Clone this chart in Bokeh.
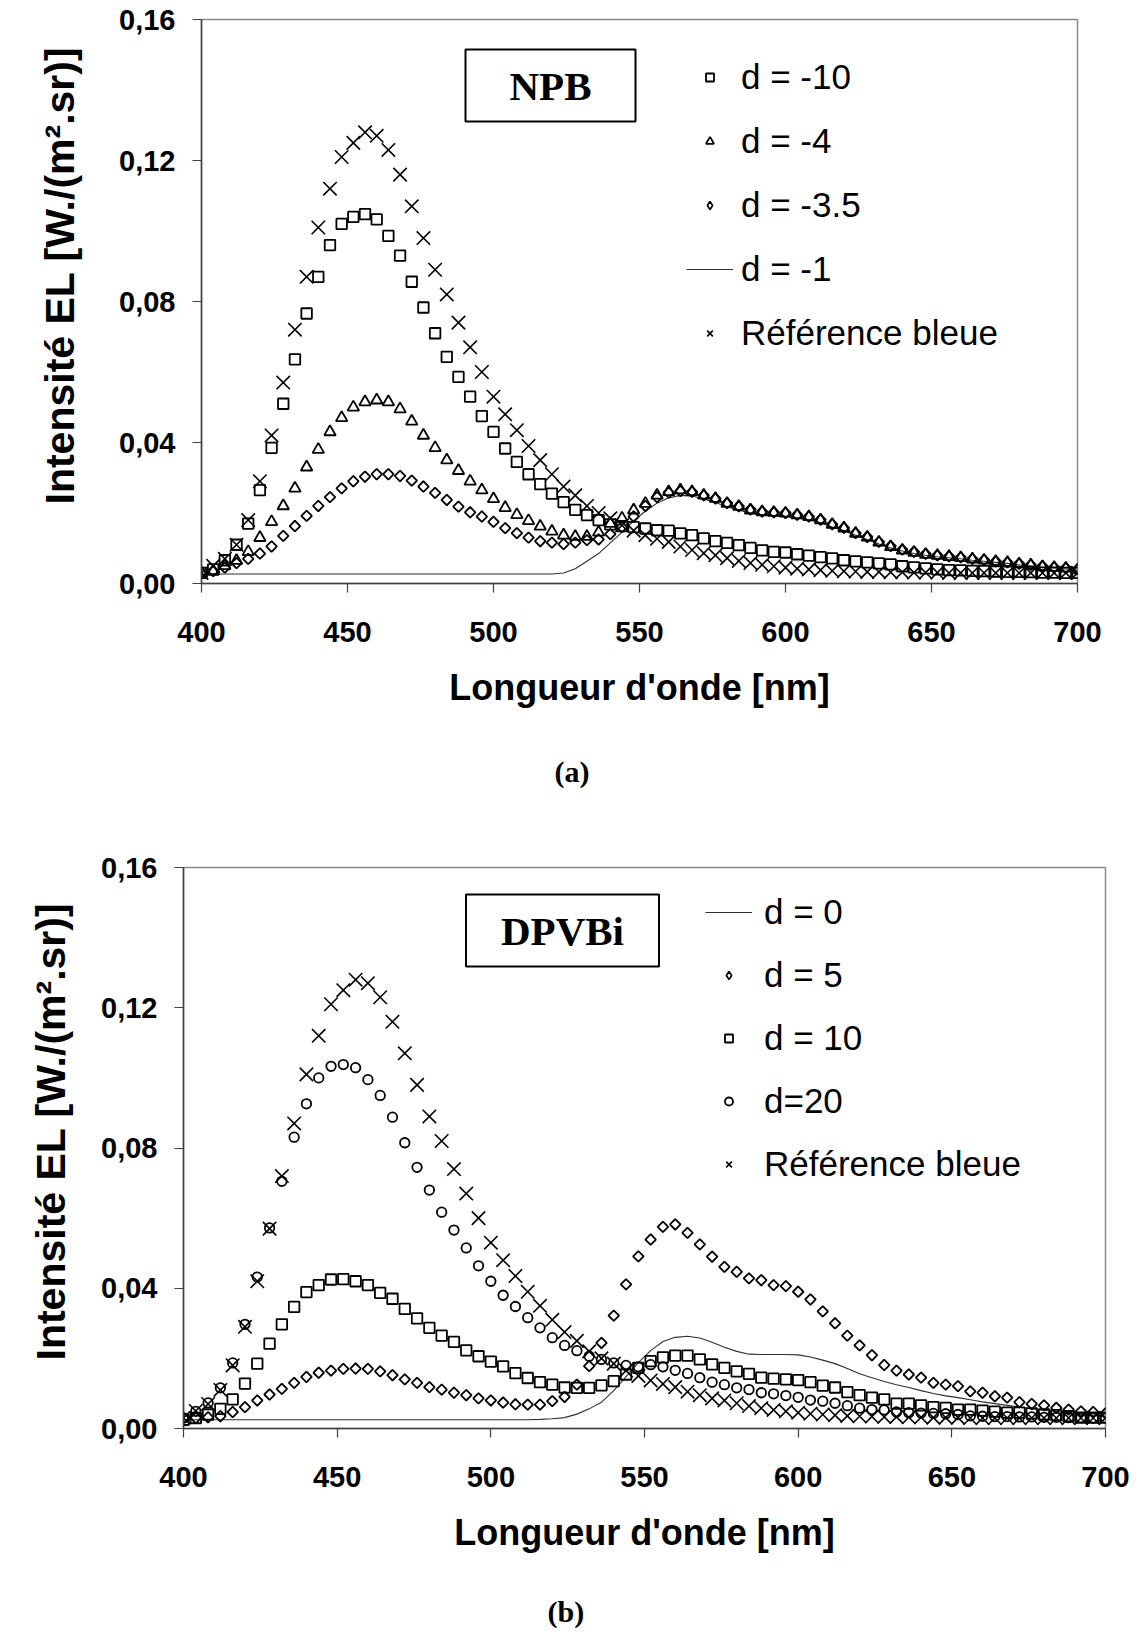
import numpy as np
from bokeh.plotting import figure
from bokeh.models import (Range1d, FixedTicker, CustomJSTickFormatter, Legend,
                          LegendItem, Label, Title)
from bokeh.embed import file_html
from bokeh.resources import INLINE

# ---------------- data ----------------
wavelength = list(range(400, 701, 4))  # nm, 76 points

ref_bleue = [0.003, 0.005, 0.007, 0.011, 0.018, 0.029, 0.042, 0.057, 0.072, 0.087,
             0.101, 0.112, 0.121, 0.125, 0.128, 0.127, 0.123, 0.116, 0.107, 0.098,
             0.089, 0.082, 0.074, 0.067, 0.060, 0.053, 0.048, 0.0435, 0.039, 0.035,
             0.031, 0.0275, 0.025, 0.022,
             0.020, 0.0185, 0.0165, 0.015, 0.0137, 0.0127, 0.0118, 0.0105, 0.0095, 0.0086,
             0.008, 0.0072, 0.0064, 0.0058, 0.0053, 0.0049,
             0.0045, 0.0042, 0.004, 0.0038, 0.0036, 0.0035, 0.0034, 0.0033, 0.0033, 0.0032,
             0.0032, 0.0031, 0.0031, 0.0031, 0.003, 0.003, 0.003, 0.003, 0.003, 0.003,
             0.003, 0.003, 0.003, 0.003, 0.003, 0.003]

# Panel (a) NPB
npb_d_m10 = [0.003, 0.004, 0.0066, 0.011, 0.017, 0.0265, 0.0385, 0.051, 0.0636, 0.0766,
             0.087, 0.096, 0.102, 0.104, 0.1048, 0.1033, 0.0986, 0.093, 0.0856, 0.0783,
             0.071, 0.0643, 0.0586, 0.053, 0.0475, 0.043, 0.0383, 0.0345, 0.031, 0.0282,
             0.0255, 0.0231, 0.0209, 0.0194,
             0.018, 0.0168, 0.0163, 0.016, 0.0156, 0.0151, 0.015, 0.0142, 0.0137, 0.0128,
             0.012, 0.0115, 0.0109, 0.0101, 0.0094, 0.009, 0.0088, 0.0083, 0.0079, 0.0075,
             0.0071, 0.0066, 0.0063, 0.006, 0.0057, 0.0054, 0.0049, 0.0046, 0.0043, 0.004,
             0.0038, 0.0037, 0.0036, 0.0035, 0.0034, 0.0033, 0.0033, 0.0032, 0.0031, 0.0031,
             0.003, 0.003]

npb_d_m4 = [0.003, 0.0035, 0.005, 0.0065, 0.009, 0.013, 0.0175, 0.022, 0.027, 0.033,
            0.038, 0.043, 0.047, 0.050, 0.0515, 0.052, 0.0515, 0.0495, 0.046, 0.042,
            0.0385, 0.035, 0.032, 0.029, 0.0265, 0.024, 0.0215, 0.0195, 0.0178, 0.0162,
            0.0148, 0.0137, 0.0133, 0.0133,
            0.0145, 0.017, 0.0185, 0.0208, 0.0227, 0.025, 0.026, 0.0265, 0.026, 0.025,
            0.0241, 0.0227, 0.0218, 0.0208, 0.0203, 0.0201, 0.0199, 0.0194, 0.0189, 0.018,
            0.0167, 0.0157, 0.0142, 0.0131, 0.0117, 0.0104, 0.0094, 0.0088, 0.0082, 0.0079,
            0.0076, 0.0073, 0.0069, 0.0066, 0.0062, 0.0059, 0.0055, 0.0052, 0.0047, 0.0045,
            0.0043, 0.0038]

npb_d_m3_5 = [0.003, 0.0035, 0.0045, 0.0058, 0.007, 0.0085, 0.0105, 0.0135, 0.0163, 0.0192,
              0.022, 0.0245, 0.027, 0.029, 0.0303, 0.031, 0.031, 0.0305, 0.0292, 0.0275,
              0.0257, 0.0237, 0.0218, 0.0202,
              0.019, 0.0175, 0.0157, 0.0143, 0.013, 0.012, 0.0116, 0.0112, 0.0116, 0.0123,
              0.0125, 0.014, 0.016, 0.019, 0.022, 0.0245, 0.0258, 0.0262, 0.026, 0.025,
              0.0241, 0.0228, 0.0219, 0.021, 0.0204, 0.0202, 0.02, 0.0195, 0.019, 0.0181,
              0.0168, 0.0158, 0.0143, 0.0132, 0.0118, 0.0106, 0.0096, 0.009, 0.0084, 0.008,
              0.0077, 0.0074, 0.007, 0.0067, 0.0063, 0.006, 0.0056, 0.0053, 0.0049, 0.0046,
              0.0044, 0.004]

npb_d_m1 = [0.0027] * 31 + [
    0.003, 0.0042, 0.0063, 0.0085, 0.0115, 0.0145, 0.0178, 0.0205, 0.0228, 0.0243,
    0.025, 0.0248, 0.024, 0.023, 0.0218, 0.0208, 0.02, 0.0195, 0.0193, 0.019,
    0.0186, 0.018, 0.0172, 0.016, 0.015, 0.0137, 0.0125, 0.0112, 0.0101, 0.0092,
    0.0085, 0.008, 0.0076, 0.0073, 0.007, 0.0066, 0.0063, 0.006, 0.0057, 0.0053,
    0.005, 0.0046, 0.0044, 0.0041, 0.0038]

# Panel (b) DPVBi
dpvbi_d0 = [0.0025] * 29 + [
    0.0026, 0.0028, 0.0031, 0.0041, 0.0056, 0.0075, 0.0108, 0.0148, 0.0188, 0.0222,
    0.0248, 0.026, 0.0263, 0.0258, 0.0246, 0.0232, 0.022, 0.0212, 0.0211, 0.0211,
    0.0211, 0.021, 0.0204, 0.0195, 0.0185, 0.0171, 0.0156, 0.0145, 0.0134, 0.0125,
    0.0117, 0.0108, 0.01, 0.0093, 0.0088, 0.0082, 0.0076, 0.0071, 0.0066, 0.0061,
    0.0056, 0.0052, 0.0048, 0.0044, 0.0041, 0.0037, 0.0035]

dpvbi_d5 = [0.003, 0.003, 0.0032, 0.0035, 0.0047, 0.0061, 0.008, 0.0097, 0.0113, 0.013,
            0.0147, 0.0159, 0.0165, 0.017, 0.0171, 0.017, 0.0163, 0.0152, 0.014, 0.013,
            0.0118, 0.0111, 0.0102, 0.0095, 0.0086,
            0.008, 0.0074, 0.0069, 0.0068, 0.0068, 0.0078, 0.009, 0.0125, 0.0178, 0.0244,
            0.0322, 0.0411, 0.0491, 0.0539, 0.0575, 0.0582, 0.0558, 0.0525, 0.049, 0.0461,
            0.0447, 0.0428, 0.0423, 0.0409, 0.0406, 0.039,
            0.0368, 0.0334, 0.03, 0.0265, 0.0237, 0.0209, 0.0181, 0.0165, 0.0154, 0.0145,
            0.013, 0.0125, 0.0121, 0.0106, 0.0102, 0.0092, 0.0088, 0.0075, 0.007, 0.0066,
            0.0059, 0.0054, 0.0049, 0.0047, 0.0043]

dpvbi_d10 = [0.0025, 0.003, 0.004, 0.0056, 0.0083, 0.0128, 0.0185, 0.0242, 0.0297, 0.0347,
             0.0389, 0.0409, 0.0425, 0.0426, 0.042, 0.0409, 0.0387, 0.037, 0.0341, 0.0314,
             0.0287, 0.0265, 0.0247, 0.0223, 0.0206,
             0.0191, 0.0177, 0.0158, 0.0144, 0.0132, 0.0125, 0.0117, 0.0116, 0.0116, 0.0123,
             0.0135, 0.0154, 0.0173, 0.0192, 0.0203, 0.0208, 0.0208, 0.0197, 0.0183, 0.0173,
             0.0163, 0.0156, 0.0145, 0.0142, 0.014, 0.0138,
             0.0132, 0.0122, 0.0117, 0.0104, 0.0095, 0.0088, 0.0083, 0.0071, 0.0071, 0.0066,
             0.0061, 0.0059, 0.0054, 0.0054, 0.0051, 0.0048, 0.0045, 0.0045, 0.0043, 0.004,
             0.0038, 0.0035, 0.0031, 0.0031, 0.0031]

dpvbi_d20 = [0.003, 0.0049, 0.0073, 0.0116, 0.0187, 0.0297, 0.0432, 0.0572, 0.0705, 0.0831,
             0.0926, 0.1, 0.1033, 0.1038, 0.1029, 0.0995, 0.095, 0.0888, 0.0815, 0.0745,
             0.068, 0.0617, 0.0566, 0.0515,
             0.0464, 0.042, 0.038, 0.0348, 0.0316, 0.0287, 0.0259, 0.0237, 0.0222, 0.0206,
             0.0197, 0.0187, 0.018, 0.0176, 0.0182, 0.0176, 0.0166, 0.0157, 0.0145, 0.0132,
             0.0125, 0.0116, 0.0111, 0.0102, 0.0099, 0.0094, 0.0089,
             0.0081, 0.0078, 0.0072, 0.0065, 0.0058, 0.0054, 0.0053, 0.0047, 0.0045, 0.0044,
             0.0043, 0.0042, 0.004, 0.0036, 0.0035, 0.0034, 0.0034, 0.0033, 0.0033, 0.0032,
             0.0032, 0.0031, 0.0031, 0.003, 0.003]

x_ticks = [400, 450, 500, 550, 600, 650, 700]
y_ticks = [0.0, 0.04, 0.08, 0.12, 0.16]

for arr in (ref_bleue, npb_d_m10, npb_d_m4, npb_d_m3_5, npb_d_m1,
            dpvbi_d0, dpvbi_d5, dpvbi_d10, dpvbi_d20):
    assert len(arr) == len(wavelength), len(arr)

SANS = "Liberation Sans"
SERIF = "Liberation Serif"


def make_panel(fw, fh, bl, br, bt, bb, ytitle_offset, ytitle_standoff,
               panel_tag, tag_offset, tag_standoff):
    p = figure(frame_width=fw, frame_height=fh,
               min_border_left=bl, min_border_right=br,
               min_border_top=bt, min_border_bottom=bb,
               x_range=Range1d(400, 700), y_range=Range1d(0, 0.16),
               output_backend="svg", toolbar_location=None, tools="")
    p.background_fill_color = "white"
    p.border_fill_color = "white"
    p.outline_line_color = "#8a8a8a"
    p.outline_line_width = 1.5
    p.grid.visible = False

    p.xaxis.ticker = FixedTicker(ticks=x_ticks)
    p.yaxis.ticker = FixedTicker(ticks=y_ticks)
    p.yaxis.formatter = CustomJSTickFormatter(
        code="return tick.toFixed(2).replace('.', ',');")
    for ax in (p.xaxis, p.yaxis):
        ax.axis_line_color = "#404040"
        ax.axis_line_width = 1.5
        ax.major_tick_line_color = "#404040"
        ax.major_tick_line_width = 1.2
        ax.major_tick_out = 9
        ax.major_tick_in = 0
        ax.minor_tick_line_color = None
        ax.major_label_text_font = SANS
        ax.major_label_text_font_style = "bold"
        ax.major_label_text_font_size = "29px"
        ax.major_label_text_color = "black"
        ax.axis_label_text_font = SANS
        ax.axis_label_text_font_style = "bold"
        ax.axis_label_text_color = "black"
    p.xaxis.major_label_standoff = 29
    p.yaxis.major_label_standoff = 17
    p.xaxis.axis_label = "Longueur d'onde [nm]"
    p.xaxis.axis_label_text_font_size = "36px"
    p.xaxis.axis_label_standoff = 22

    # y-axis title (side title so it can sit slightly above the frame centre)
    p.add_layout(Title(text="Intensité EL [W./(m².sr)]", align="left",
                       offset=ytitle_offset, standoff=ytitle_standoff,
                       vertical_align="bottom",
                       text_font=SANS, text_font_style="bold", text_font_size="41px",
                       text_color="black"), "left")
    # panel tag (a)/(b) below the axis title
    p.add_layout(Title(text=panel_tag, align="left", offset=tag_offset,
                       standoff=tag_standoff, vertical_align="top",
                       text_font=SERIF, text_font_style="bold", text_font_size="30px",
                       text_color="black"), "below")
    return p


def add_series(p, kind, y):
    x = wavelength
    if kind == "line":
        return p.line(x, y, line_color="#303030", line_width=1.1)
    common = dict(fill_color=None, line_color="black", line_width=1.8)
    if kind == "square":
        return p.scatter(x, y, marker="square", size=10.5, **common)
    if kind == "triangle":
        return p.scatter(x, y, marker="triangle", size=11.5, **common)
    if kind == "diamond":
        return p.scatter(x, y, marker="square", angle=np.pi / 4, size=7.5, **common)
    if kind == "circle":
        return p.scatter(x, y, marker="circle", size=9.5, **common)
    if kind == "x":
        return p.scatter(x, y, marker="x", size=19, fill_color=None,
                         line_color="black", line_width=1.6)


def legend_diamond(p):
    # legend swatch only (not drawn in the plot area: NaN position)
    return p.scatter([np.nan], [np.nan], marker="diamond", size=10, fill_color=None,
                     line_color="black", line_width=1.6)


def make_legend(items, loc, standoff, spacing):
    lg = Legend(items=items, location=loc, orientation="vertical")
    lg.glyph_width = 47
    lg.glyph_height = 20
    lg.label_height = 40
    lg.label_standoff = standoff
    lg.spacing = spacing
    lg.padding = 0
    lg.margin = 0
    lg.border_line_color = None
    lg.background_fill_alpha = 0
    lg.label_text_font = SANS
    lg.label_text_font_size = "35px"
    lg.label_text_color = "black"
    return lg


# ---------------- panel (a) ----------------
pa = make_panel(876, 564, 201, 40, 19, 200, 79, 68, "(a)", 353, 89)
ra_line = add_series(pa, "line", npb_d_m1)
ra_sq = add_series(pa, "square", npb_d_m10)
ra_tr = add_series(pa, "triangle", npb_d_m4)
ra_di = add_series(pa, "diamond", npb_d_m3_5)
ra_x = add_series(pa, "x", ref_bleue)
ra_di_lg = legend_diamond(pa)
pa.add_layout(make_legend([
    LegendItem(label="d = -10", renderers=[ra_sq]),
    LegendItem(label="d = -4", renderers=[ra_tr]),
    LegendItem(label="d = -3.5", renderers=[ra_di_lg]),
    LegendItem(label="d = -1", renderers=[ra_line]),
    LegendItem(label="Référence bleue", renderers=[ra_x]),
], (485, 230), 8, 24))
pa.add_layout(Label(x=349, y=498, x_units="screen", y_units="screen", text="NPB",
                    text_align="center", text_baseline="middle",
                    text_font=SERIF, text_font_style="bold", text_font_size="41px",
                    text_color="black", border_line_color="black", border_line_width=2,
                    background_fill_color="white", padding=(44, 13)))

# ---------------- panel (b) ----------------
pb = make_panel(922, 561, 183, 30, 33, 10, 68, 49, "(b)", 364, 79)
rb_line = add_series(pb, "line", dpvbi_d0)
rb_di = add_series(pb, "diamond", dpvbi_d5)
rb_sq = add_series(pb, "square", dpvbi_d10)
rb_ci = add_series(pb, "circle", dpvbi_d20)
rb_x = add_series(pb, "x", ref_bleue)
rb_di_lg = legend_diamond(pb)
pb.add_layout(make_legend([
    LegendItem(label="d = 0", renderers=[rb_line]),
    LegendItem(label="d = 5", renderers=[rb_di_lg]),
    LegendItem(label="d = 10", renderers=[rb_sq]),
    LegendItem(label="d=20", renderers=[rb_ci]),
    LegendItem(label="Référence bleue", renderers=[rb_x]),
], (522, 244), 12, 23))
pb.add_layout(Label(x=379, y=498, x_units="screen", y_units="screen", text="DPVBi",
                    text_align="center", text_baseline="middle",
                    text_font=SERIF, text_font_style="bold", text_font_size="41px",
                    text_color="black", border_line_color="black", border_line_width=2,
                    background_fill_color="white", padding=(35, 13)))

open("out.html", "w").write(file_html([pa, pb], INLINE))
